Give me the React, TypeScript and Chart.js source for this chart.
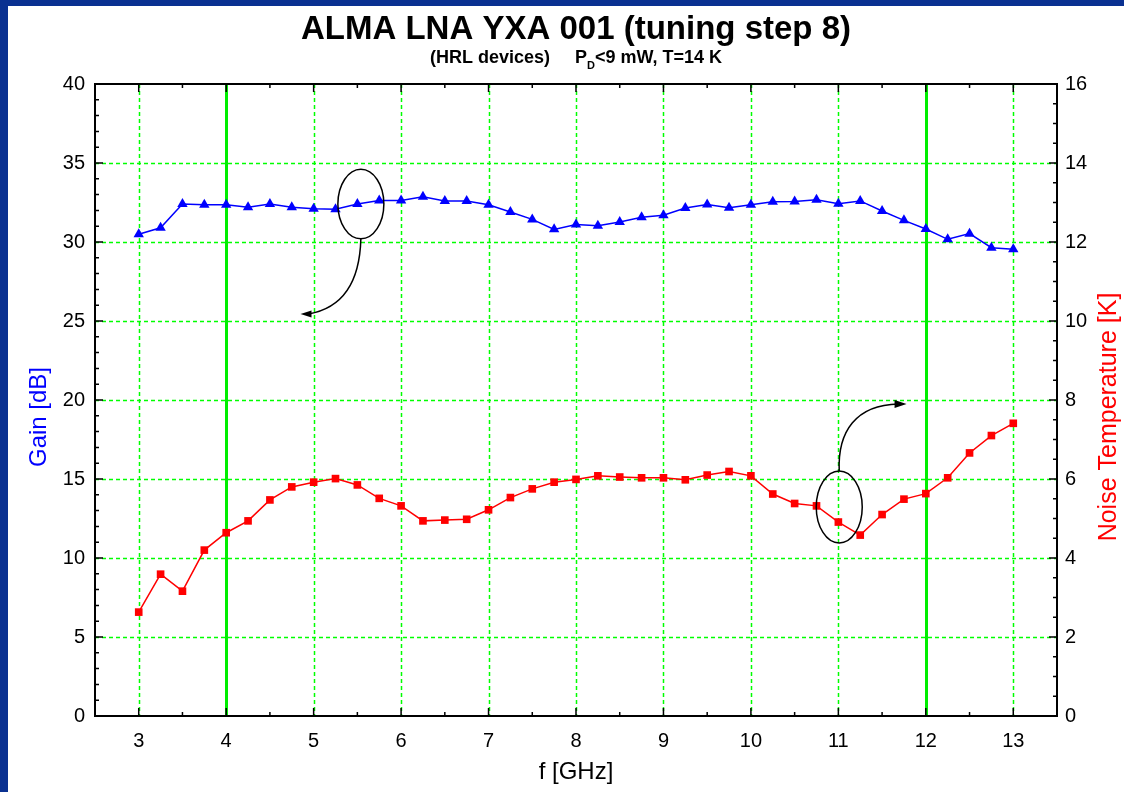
import React, { useEffect, useRef } from "react";
import { Chart, registerables } from "chart.js";

Chart.register(...registerables);

// ---------- data ----------
const frequencies = [
  3, 3.25, 3.5, 3.75, 4, 4.25, 4.5, 4.75, 5, 5.25, 5.5, 5.75, 6, 6.25, 6.5, 6.75,
  7, 7.25, 7.5, 7.75, 8, 8.25, 8.5, 8.75, 9, 9.25, 9.5, 9.75, 10, 10.25, 10.5, 10.75,
  11, 11.25, 11.5, 11.75, 12, 12.25, 12.5, 12.75, 13,
];
const gainDb = [
  30.49, 30.9, 32.4, 32.35, 32.36, 32.2, 32.4, 32.2, 32.1, 32.07, 32.4, 32.62, 32.62, 32.87, 32.6, 32.6,
  32.36, 31.9, 31.43, 30.8, 31.1, 31.03, 31.27, 31.56, 31.69, 32.15, 32.38, 32.17, 32.36, 32.55, 32.57, 32.68,
  32.42, 32.6, 31.96, 31.37, 30.82, 30.17, 30.53, 29.64, 29.54,
];
const noiseK = [
  2.63, 3.59, 3.16, 4.2, 4.64, 4.94, 5.47, 5.8, 5.92, 6.01, 5.85, 5.51, 5.32, 4.94, 4.96, 4.98,
  5.22, 5.53, 5.75, 5.92, 5.99, 6.08, 6.05, 6.03, 6.03, 5.98, 6.1, 6.19, 6.08, 5.62, 5.38, 5.32,
  4.91, 4.58, 5.1, 5.49, 5.63, 6.03, 6.66, 7.1, 7.41,
];
const xTicks = [3, 4, 5, 6, 7, 8, 9, 10, 11, 12, 13];
const gainTicks = [0, 5, 10, 15, 20, 25, 30, 35, 40];
const noiseTicks = [0, 2, 4, 6, 8, 10, 12, 14, 16];
const bandEdges = [4, 12];

const titleText = "ALMA LNA YXA 001 (tuning step 8)";
const subtitleParts = ["(HRL devices)     P", "D", "<9 mW, T=14 K"];
const xTitle = "f [GHz]";
const gainTitle = "Gain [dB]";
const noiseTitle = "Noise Temperature [K]";

// annotation anchors in data units
const gainEllipse = { x: 5.54, y: 32.4, rx: 0.263, ry: 2.2 }; // x GHz, y dB
const gainArrow = { c1x: 5.52, c1y: 26.0, tipX: 4.85, tipY: 25.44 }; // dB
const noiseEllipse = { x: 11.01, y: 5.29, rx: 0.263, ry: 0.91 }; // y K
const noiseArrow = { c1x: 10.99, c1y: 7.2, c2x: 11.2, c2y: 7.88, tipX: 11.78, tipY: 7.9 }; // K

const FONT = "'Liberation Sans', Arial, Helvetica, sans-serif";
const FRAME_BLUE = "#0a3191";
const GRID_GREEN = "#00ff00";
const BAND_GREEN = "#00ee00";

const decorPlugin = {
  id: "decor",
  beforeDraw(chart: any) {
    const { ctx, width, height } = chart;
    ctx.save();
    ctx.fillStyle = FRAME_BLUE;
    ctx.fillRect(0, 0, width, height);
    ctx.fillStyle = "#ffffff";
    ctx.fillRect(8, 6, width - 8, height - 6);
    ctx.restore();
  },
  beforeDatasetsDraw(chart: any) {
    const { ctx, chartArea } = chart;
    const xs = chart.scales.x;
    const yg = chart.scales.y;
    ctx.save();
    // dashed grid
    ctx.strokeStyle = GRID_GREEN;
    ctx.lineWidth = 1.5;
    ctx.setLineDash([4, 3]);
    ctx.beginPath();
    xTicks.forEach((v) => {
      const px = Math.round(xs.getPixelForValue(v)) + 0.5;
      ctx.moveTo(px, chartArea.top);
      ctx.lineTo(px, chartArea.bottom);
    });
    gainTicks.forEach((v) => {
      if (v === yg.min || v === yg.max) return;
      const py = Math.round(yg.getPixelForValue(v)) + 0.5;
      ctx.moveTo(chartArea.left, py);
      ctx.lineTo(chartArea.right, py);
    });
    ctx.stroke();
    ctx.setLineDash([]);
    // band edges
    ctx.strokeStyle = BAND_GREEN;
    ctx.lineWidth = 3;
    bandEdges.forEach((v) => {
      const px = Math.round(xs.getPixelForValue(v)) + 0.5;
      ctx.beginPath();
      ctx.moveTo(px, chartArea.top);
      ctx.lineTo(px, chartArea.bottom);
      ctx.stroke();
    });
    ctx.restore();
  },
  afterDatasetsDraw(chart: any) {
    const { ctx } = chart;
    const xs = chart.scales.x;
    const yg = chart.scales.y;
    const yn = chart.scales.y1;
    ctx.save();
    ctx.strokeStyle = "#000";
    ctx.fillStyle = "#000";
    ctx.lineWidth = 1.5;

    // gain ellipse + arrow
    const gcx = xs.getPixelForValue(gainEllipse.x);
    const gcy = yg.getPixelForValue(gainEllipse.y);
    const grx = xs.getPixelForValue(gainEllipse.x + gainEllipse.rx) - gcx;
    const gry = gcy - yg.getPixelForValue(gainEllipse.y + gainEllipse.ry);
    ctx.beginPath();
    ctx.ellipse(gcx, gcy, grx, gry, 0, 0, Math.PI * 2);
    ctx.stroke();
    const gtx = xs.getPixelForValue(gainArrow.tipX);
    const gty = yg.getPixelForValue(gainArrow.tipY);
    ctx.beginPath();
    ctx.moveTo(gcx, gcy + gry);
    ctx.quadraticCurveTo(
      xs.getPixelForValue(gainArrow.c1x),
      yg.getPixelForValue(gainArrow.c1y),
      gtx + 8,
      gty
    );
    ctx.stroke();
    ctx.beginPath();
    ctx.moveTo(gtx, gty);
    ctx.lineTo(gtx + 11, gty - 3.5);
    ctx.lineTo(gtx + 11, gty + 3.5);
    ctx.closePath();
    ctx.fill();

    // noise ellipse + arrow
    const ncx = xs.getPixelForValue(noiseEllipse.x);
    const ncy = yn.getPixelForValue(noiseEllipse.y);
    const nrx = xs.getPixelForValue(noiseEllipse.x + noiseEllipse.rx) - ncx;
    const nry = ncy - yn.getPixelForValue(noiseEllipse.y + noiseEllipse.ry);
    ctx.beginPath();
    ctx.ellipse(ncx, ncy, nrx, nry, 0, 0, Math.PI * 2);
    ctx.stroke();
    const ntx = xs.getPixelForValue(noiseArrow.tipX);
    const nty = yn.getPixelForValue(noiseArrow.tipY);
    ctx.beginPath();
    ctx.moveTo(ncx, ncy - nry);
    ctx.bezierCurveTo(
      xs.getPixelForValue(noiseArrow.c1x),
      yn.getPixelForValue(noiseArrow.c1y),
      xs.getPixelForValue(noiseArrow.c2x),
      yn.getPixelForValue(noiseArrow.c2y),
      ntx - 8,
      nty
    );
    ctx.stroke();
    ctx.beginPath();
    ctx.moveTo(ntx, nty);
    ctx.lineTo(ntx - 12, nty - 4);
    ctx.lineTo(ntx - 12, nty + 4);
    ctx.closePath();
    ctx.fill();
    ctx.restore();
  },
  afterDraw(chart: any) {
    const { ctx, chartArea } = chart;
    const { left, right, top, bottom } = chartArea;
    const xs = chart.scales.x;
    const yg = chart.scales.y;
    const yn = chart.scales.y1;
    ctx.save();
    // frame
    ctx.strokeStyle = "#000";
    ctx.lineWidth = 2;
    ctx.strokeRect(left, top, right - left, bottom - top);

    // inner tick marks
    ctx.lineWidth = 1.5;
    ctx.beginPath();
    for (let k = 5; k <= 27; k++) {
      const v = k / 2;
      if (v <= xs.min || v >= xs.max) continue;
      const px = xs.getPixelForValue(v);
      const len = Number.isInteger(v) ? 8 : 4;
      ctx.moveTo(px, bottom);
      ctx.lineTo(px, bottom - len);
      ctx.moveTo(px, top);
      ctx.lineTo(px, top + len);
    }
    for (let v = 1; v < 40; v++) {
      const py = yg.getPixelForValue(v);
      const len = v % 5 === 0 ? 8 : 4;
      ctx.moveTo(left, py);
      ctx.lineTo(left + len, py);
    }
    for (let k = 1; k < 32; k++) {
      const v = k / 2;
      const py = yn.getPixelForValue(v);
      const len = v % 2 === 0 ? 8 : 4;
      ctx.moveTo(right, py);
      ctx.lineTo(right - len, py);
    }
    ctx.stroke();

    // titles
    const cx = (left + right) / 2;
    ctx.fillStyle = "#000";
    ctx.textAlign = "center";
    ctx.textBaseline = "alphabetic";
    ctx.font = `bold 33px ${FONT}`;
    ctx.fillText(titleText, cx, 39);

    const bigFont = `bold 18px ${FONT}`;
    const subFont = `bold 11px ${FONT}`;
    ctx.font = bigFont;
    const w0 = ctx.measureText(subtitleParts[0]).width;
    const w2 = ctx.measureText(subtitleParts[2]).width;
    ctx.font = subFont;
    const w1 = ctx.measureText(subtitleParts[1]).width;
    let sx = cx - (w0 + w1 + w2) / 2;
    ctx.textAlign = "left";
    ctx.font = bigFont;
    ctx.fillText(subtitleParts[0], sx, 63);
    sx += w0;
    ctx.font = subFont;
    ctx.fillText(subtitleParts[1], sx, 69);
    sx += w1;
    ctx.font = bigFont;
    ctx.fillText(subtitleParts[2], sx, 63);

    // axis titles
    ctx.textAlign = "center";
    ctx.textBaseline = "middle";
    ctx.font = `24px ${FONT}`;
    ctx.fillStyle = "#000";
    ctx.fillText(xTitle, cx, 772);

    ctx.save();
    ctx.translate(39, 417);
    ctx.rotate(-Math.PI / 2);
    ctx.fillStyle = "#0000ff";
    ctx.fillText(gainTitle, 0, 0);
    ctx.restore();

    ctx.save();
    ctx.translate(1109, 417);
    ctx.rotate(-Math.PI / 2);
    ctx.fillStyle = "#ff0000";
    ctx.font = `25px ${FONT}`;
    ctx.fillText(noiseTitle, 0, 0);
    ctx.restore();

    ctx.restore();
  },
};

export default function App() {
  const canvasRef = useRef<HTMLCanvasElement | null>(null);

  useEffect(() => {
    const canvas = canvasRef.current;
    if (!canvas) return;
    const gainPoints = frequencies.map((f, i) => ({ x: f, y: gainDb[i] }));
    const noisePoints = frequencies.map((f, i) => ({ x: f, y: noiseK[i] }));

    const chart = new Chart(canvas, {
      type: "line",
      data: {
        datasets: [
          {
            label: "Gain",
            data: gainPoints,
            yAxisID: "y",
            borderColor: "#0000ff",
            backgroundColor: "#0000ff",
            borderWidth: 1.5,
            pointStyle: "triangle",
            pointRadius: 6,
            pointBorderWidth: 0,
            fill: false,
            tension: 0,
          },
          {
            label: "Noise Temperature",
            data: noisePoints,
            yAxisID: "y1",
            borderColor: "#ff0000",
            backgroundColor: "#ff0000",
            borderWidth: 1.5,
            pointStyle: "rect",
            pointRadius: 5.4,
            pointBorderWidth: 0,
            fill: false,
            tension: 0,
          },
        ],
      },
      options: {
        responsive: false,
        animation: false,
        devicePixelRatio: 1,
        layout: { padding: { top: 84, left: 0, right: 0, bottom: 0 } },
        plugins: {
          legend: { display: false },
          tooltip: { enabled: false },
          title: { display: false },
        },
        scales: {
          x: {
            type: "linear",
            min: 2.5,
            max: 13.5,
            afterBuildTicks: (scale: any) => {
              scale.ticks = xTicks.map((v) => ({ value: v }));
            },
            afterFit: (scale: any) => {
              scale.height = 76;
            },
            grid: { display: false, drawTicks: false },
            border: { display: false },
            ticks: {
              color: "#000",
              padding: 13,
              font: { family: FONT, size: 20 },
              maxRotation: 0,
            },
          },
          y: {
            type: "linear",
            position: "left",
            min: 0,
            max: 40,
            afterBuildTicks: (scale: any) => {
              scale.ticks = gainTicks.map((v) => ({ value: v }));
            },
            afterFit: (scale: any) => {
              scale.width = 95;
            },
            grid: { display: false, drawTicks: false },
            border: { display: false },
            ticks: {
              color: "#000",
              padding: 10,
              font: { family: FONT, size: 20 },
            },
          },
          y1: {
            type: "linear",
            position: "right",
            min: 0,
            max: 16,
            afterBuildTicks: (scale: any) => {
              scale.ticks = noiseTicks.map((v) => ({ value: v }));
            },
            afterFit: (scale: any) => {
              scale.width = 67;
            },
            grid: { display: false, drawTicks: false },
            border: { display: false },
            ticks: {
              color: "#000",
              padding: 8,
              font: { family: FONT, size: 20 },
            },
          },
        },
      },
      plugins: [decorPlugin],
    } as any);

    return () => chart.destroy();
  }, []);

  return (
    <div style={{ position: "fixed", left: 0, top: 0, width: 1124, height: 792 }}>
      <canvas ref={canvasRef} width={1124} height={792} style={{ display: "block" }} />
    </div>
  );
}
